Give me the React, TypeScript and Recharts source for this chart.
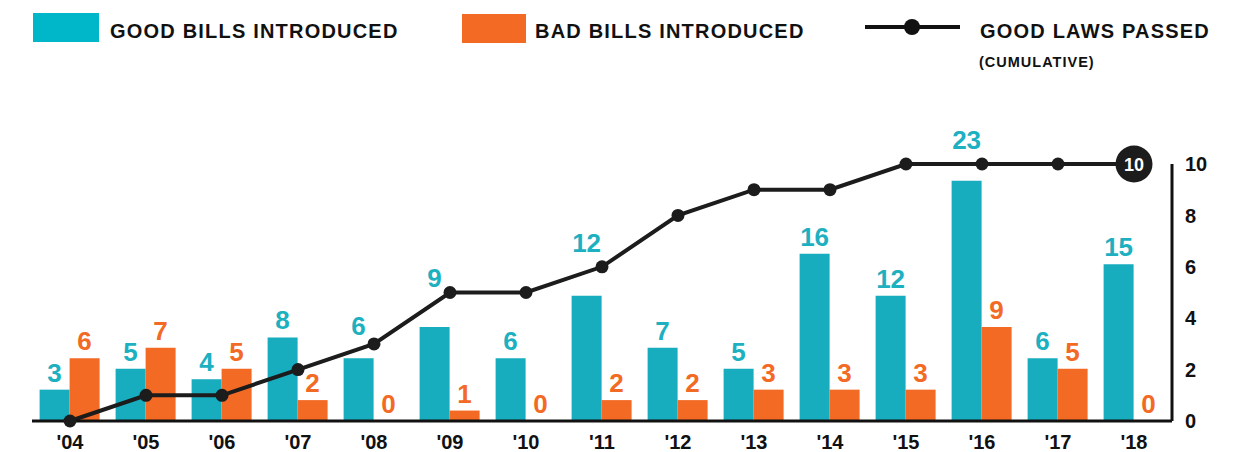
import React from "react"
import { ComposedChart, Bar, Line, XAxis, YAxis, LabelList } from "recharts"

const years = ["'04", "'05", "'06", "'07", "'08", "'09", "'10", "'11", "'12", "'13", "'14", "'15", "'16", "'17", "'18"]
const goodBills = [3, 5, 4, 8, 6, 9, 6, 12, 7, 5, 16, 12, 23, 6, 15]
const badBills = [6, 7, 5, 2, 0, 1, 0, 2, 2, 3, 3, 3, 9, 5, 0]
const goodLaws = [0, 1, 1, 2, 3, 5, 5, 6, 8, 9, 9, 10, 10, 10, 10]
const lawTicks = [0, 2, 4, 6, 8, 10]

const TEAL = "#17adbe"
const TEAL_TEXT = "#1db0c1"
const ORANGE = "#f26a24"
const INK = "#1c1c1c"
const FONT = "'Liberation Sans', Arial, sans-serif"

const data = years.map((year, i) => ({
  year,
  good: goodBills[i],
  bad: badBills[i],
  laws: goodLaws[i],
}))

// extra lift for a few teal labels that would sit on the line
const goodLift: Record<number, number> = { 4: 15, 5: 32, 7: 36, 12: 24 }

const barLabel = (color: string, lift: Record<number, number>) => (props: any) => {
  const { x, y, width, height, value, index } = props
  const extra = lift[index] || 0
  // zero bars get a hairline height, so measure from the bar's bottom edge
  const top = Number(value) === 0 ? Number(y) + Number(height) : Number(y)
  return (
    <text
      x={Number(x) + Number(width) / 2}
      y={top - 8 - extra}
      textAnchor="middle"
      fill={color}
      fontFamily={FONT}
      fontWeight="bold"
      fontSize={26}
    >
      {value}
    </text>
  )
}

const LawDot = (props: any) => {
  const { cx, cy, index, value } = props
  if (index === data.length - 1) {
    return (
      <g key={`dot-${index}`}>
        <circle cx={cx} cy={cy} r={18.5} fill={INK} />
        <text x={cx} y={cy + 6.5} textAnchor="middle" fill="#fff" fontFamily={FONT} fontWeight="bold" fontSize={18}>
          {value}
        </text>
      </g>
    )
  }
  return <circle key={`dot-${index}`} cx={cx} cy={cy} r={6.5} fill={INK} />
}

function LegendBar() {
  const txt = { fontFamily: FONT, fontWeight: "bold" as const, fontSize: 20, letterSpacing: 1.2, fill: "#111" }
  return (
    <svg width={1249} height={80} style={{ position: "absolute", left: 0, top: 0 }}>
      <rect x={33} y={13} width={66} height={29} fill="#00b6c9" />
      <text x={110} y={38} {...txt}>GOOD BILLS INTRODUCED</text>
      <rect x={462} y={14} width={64} height={29} fill={ORANGE} />
      <text x={535} y={38} {...txt}>BAD BILLS INTRODUCED</text>
      <line x1={865} y1={27} x2={960} y2={27} stroke="#111" strokeWidth={4} />
      <circle cx={912} cy={27} r={8} fill="#111" />
      <text x={980} y={38} {...txt}>GOOD LAWS PASSED</text>
      <text x={979} y={67} fontFamily={FONT} fontWeight="bold" fontSize={14.5} letterSpacing={1} fill="#111">
        (CUMULATIVE)
      </text>
    </svg>
  )
}

export default function App() {
  return (
    <div style={{ position: "absolute", left: 0, top: 0, width: 1249, height: 452, background: "#fff" }}>
      <LegendBar />
      <div style={{ position: "absolute", left: 0, top: 0 }}>
        <ComposedChart
          width={1249}
          height={452}
          data={data}
          margin={{ top: 164, right: 17, bottom: 0, left: 32 }}
          barCategoryGap="10%"
          barGap={0}
        >
          <XAxis
            dataKey="year"
            height={31}
            axisLine={{ stroke: "#111", strokeWidth: 3 }}
            tickLine={false}
            tickSize={6}
            tickMargin={8}
            tick={{ fill: "#111", fontFamily: FONT, fontWeight: "bold", fontSize: 20 }}
            interval={0}
          />
          <YAxis yAxisId="bills" hide domain={[0, 24.6]} />
          <YAxis
            yAxisId="laws"
            orientation="right"
            width={60}
            domain={[0, 10]}
            ticks={lawTicks}
            axisLine={{ stroke: "#111", strokeWidth: 3 }}
            tickLine={false}
            tickSize={6}
            tickMargin={7}
            tick={{ fill: "#111", fontFamily: FONT, fontWeight: "bold", fontSize: 20, textAnchor: "start" }}
          />
          <Bar yAxisId="bills" dataKey="good" fill={TEAL} isAnimationActive={false}>
            <LabelList dataKey="good" content={barLabel(TEAL_TEXT, goodLift)} />
          </Bar>
          <Bar yAxisId="bills" dataKey="bad" fill={ORANGE} minPointSize={0.01} isAnimationActive={false}>
            <LabelList dataKey="bad" content={barLabel(ORANGE, {})} />
          </Bar>
          <Line
            yAxisId="laws"
            dataKey="laws"
            type="linear"
            stroke={INK}
            strokeWidth={4}
            dot={LawDot}
            activeDot={false}
            isAnimationActive={false}
          />
        </ComposedChart>
      </div>
    </div>
  )
}
